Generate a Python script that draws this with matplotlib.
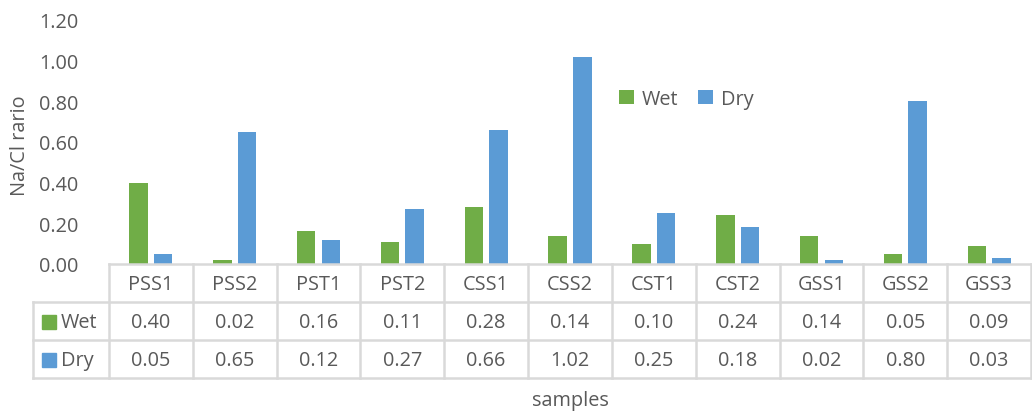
import matplotlib
matplotlib.use("Agg")
import matplotlib.pyplot as plt
from matplotlib.patches import Rectangle
import numpy as np

plt.rcParams['font.family'] = ['Open Sans', 'DejaVu Sans']

samples = ["PSS1", "PSS2", "PST1", "PST2", "CSS1", "CSS2", "CST1", "CST2", "GSS1", "GSS2", "GSS3"]
wet = [0.40, 0.02, 0.16, 0.11, 0.28, 0.14, 0.10, 0.24, 0.14, 0.05, 0.09]
dry = [0.05, 0.65, 0.12, 0.27, 0.66, 1.02, 0.25, 0.18, 0.02, 0.80, 0.03]
series_names = ["Wet", "Dry"]
yticks = [0.0, 0.2, 0.4, 0.6, 0.8, 1.0, 1.2]

GREEN = "#70AD47"
BLUE = "#5B9BD5"
TXT = "#595959"
GRID = "#D9D9D9"
FS = 14.3

W, H = 1032, 414
fig = plt.figure(figsize=(W / 100, H / 100), dpi=100)

# pixel geometry
x_left, x_right = 109, 1031
y_zero, y_top = 265, 21
ax = fig.add_axes([x_left / W, (H - y_zero) / H, (x_right - x_left) / W, (y_zero - y_top) / H])
n = len(samples)
x = np.arange(n)
bw = 0.22
off = 0.147
ax.bar(x - off, wet, width=bw, color=GREEN, label="Wet")
ax.bar(x + off, dry, width=bw, color=BLUE, label="Dry")
ax.set_xlim(-0.5, n - 0.5)
ax.set_ylim(0, 1.2)
ax.set_yticks(yticks)
ax.set_yticklabels([f"{v:.2f}" for v in yticks], fontsize=FS, color=TXT)
ax.tick_params(axis='y', length=0, pad=22)
ax.set_xticks([])
for s in ax.spines.values():
    s.set_visible(False)
ax.patch.set_alpha(0)

leg = ax.legend(loc='upper left', bbox_to_anchor=((619 - x_left) / (x_right - x_left), 1 - (90 - y_top) / (y_zero - y_top)),
                ncol=2, frameon=False, fontsize=FS, handlelength=0.75, handleheight=0.75,
                handletextpad=0.4, columnspacing=1.0, borderaxespad=0, borderpad=0)
for t in leg.get_texts():
    t.set_color(TXT)

# overlay axes in pixel coordinates for the data table and titles
ov = fig.add_axes([0, 0, 1, 1])
ov.set_xlim(0, W)
ov.set_ylim(H, 0)
ov.axis('off')
ov.patch.set_alpha(0)

colw = (x_right - x_left) / n
rows_y = [265, 303, 341, 379]
tbl_left = 33
lw = 1.8
# horizontal lines
ov.plot([x_left, x_right], [rows_y[0]] * 2, color=GRID, lw=lw)
for yy in rows_y[1:]:
    ov.plot([tbl_left, x_right], [yy] * 2, color=GRID, lw=lw)
# vertical lines
ov.plot([tbl_left, tbl_left], [rows_y[1], rows_y[3]], color=GRID, lw=lw)
for i in range(n + 1):
    xx = x_left + i * colw
    ov.plot([xx, xx], [rows_y[0], rows_y[3]], color=GRID, lw=lw)

# header
for i, s in enumerate(samples):
    cx = x_left + (i + 0.5) * colw
    ov.text(cx, (rows_y[0] + rows_y[1]) / 2 + 1, s, ha='center', va='center', fontsize=FS, color=TXT)
# rows
for r, (name, vals, col) in enumerate(zip(series_names, [wet, dry], [GREEN, BLUE])):
    cy = (rows_y[r + 1] + rows_y[r + 2]) / 2 + 1
    ov.add_patch(Rectangle((42, cy - 7.5), 14, 14, color=col))
    ov.text(61, cy, name, ha='left', va='center', fontsize=FS, color=TXT)
    for i, v in enumerate(vals):
        cx = x_left + (i + 0.5) * colw
        ov.text(cx, cy, f"{v:.2f}", ha='center', va='center', fontsize=FS, color=TXT)

# axis titles
ov.text(20, 146, "Na/Cl rario", rotation=90, ha='center', va='center', fontsize=FS, color=TXT)
ov.text(570, 401, "samples", ha='center', va='center', fontsize=FS, color=TXT)

fig.savefig("out.png", dpi=100)
